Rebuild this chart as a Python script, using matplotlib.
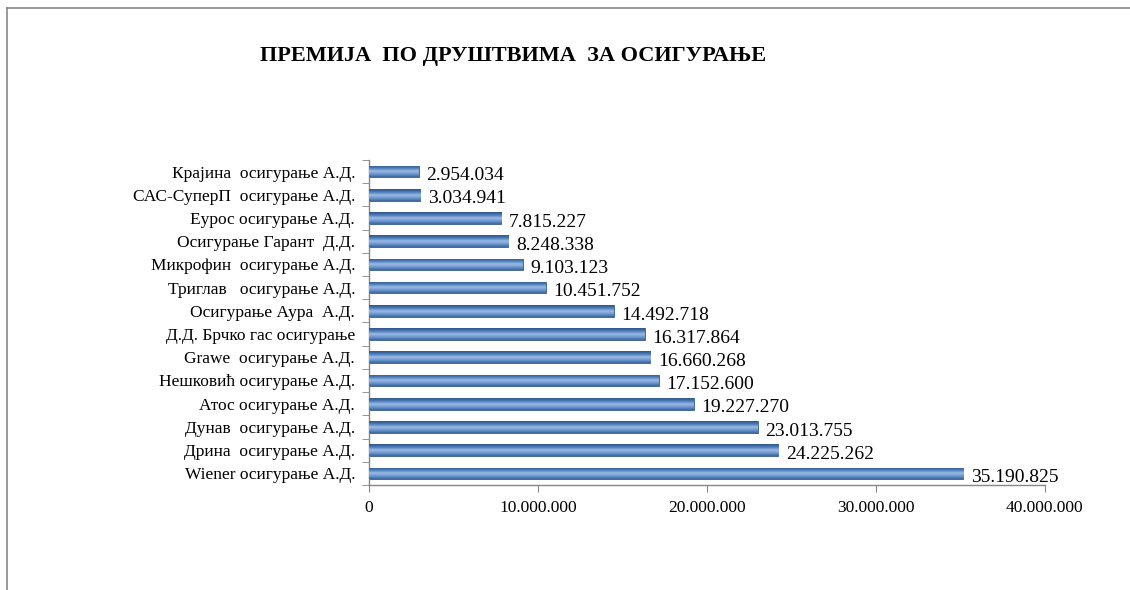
import matplotlib
matplotlib.use("Agg")
import matplotlib.pyplot as plt
import numpy as np
from matplotlib.colors import LinearSegmentedColormap
from matplotlib.lines import Line2D

companies = [
    "Крајина  осигурање А.Д.",
    "САС-СуперП  осигурање А.Д.",
    "Еурос осигурање А.Д.",
    "Осигурање Гарант  Д.Д.",
    "Микрофин  осигурање А.Д.",
    "Триглав   осигурање А.Д.",
    "Осигурање Аура  А.Д.",
    "Д.Д. Брчко гас осигурање",
    "Grawe  осигурање А.Д.",
    "Нешковић осигурање А.Д.",
    "Атос осигурање А.Д.",
    "Дунав  осигурање А.Д.",
    "Дрина  осигурање А.Д.",
    "Wiener осигурање А.Д.",
]
premiums = [
    2954034, 3034941, 7815227, 8248338, 9103123, 10451752, 14492718,
    16317864, 16660268, 17152600, 19227270, 23013755, 24225262, 35190825,
]
x_ticks = [0, 10000000, 20000000, 30000000, 40000000]


def dotted(value):
    return f"{value:,}".replace(",", ".")


plt.rcParams["font.family"] = ["Liberation Serif", "DejaVu Serif"]

fig = plt.figure(figsize=(11.3, 5.9), dpi=100)
ax = fig.add_axes([0.3265, 0.178, 0.598, 0.551])

positions = np.arange(len(companies))
bars = ax.barh(positions, premiums, height=0.5, color="#4f81bd",
               edgecolor="#385d8a", linewidth=0.6, zorder=2)

# vertical gradient over each bar, like the old Excel style
grad = LinearSegmentedColormap.from_list(
    "bar", ["#2f5689", "#4a7cba", "#9cbbe4", "#6d97cf", "#3b66a0"])
gradient = np.linspace(0, 1, 64).reshape(-1, 1)
for bar in bars:
    x0, y0 = bar.get_x(), bar.get_y()
    w, h = bar.get_width(), bar.get_height()
    img = ax.imshow(gradient, cmap=grad, aspect="auto",
                    extent=(x0, x0 + w, y0 + h, y0), zorder=3,
                    interpolation="bilinear")
    img.set_clip_path(bar)

for pos, value in zip(positions, premiums):
    ax.text(value + 450000, pos + 0.18, dotted(value), va="center",
            ha="left", fontsize=14, zorder=4)

ax.set_xlim(0, 40000000)
ax.set_ylim(len(companies) - 0.5, -0.5)
ax.set_xticks(x_ticks)
ax.set_xticklabels([dotted(t) for t in x_ticks], fontsize=12.5)
ax.set_yticks(positions)
ax.set_yticklabels(companies, fontsize=12.5)
ax.tick_params(axis="y", which="major", length=0, pad=10)
ax.set_yticks(np.arange(-0.5, len(companies), 1), minor=True)
ax.tick_params(axis="y", which="minor", length=5, direction="out",
               color="#868686")
ax.tick_params(axis="x", length=5, direction="out", color="#868686", pad=6)

for side in ["top", "right"]:
    ax.spines[side].set_visible(False)
for side in ["left", "bottom"]:
    ax.spines[side].set_color("#868686")
    ax.spines[side].set_linewidth(1.0)

fig.text(0.454, 0.905, "ПРЕМИЈА  ПО ДРУШТВИМА  ЗА ОСИГУРАЊЕ",
         ha="center", va="center", fontsize=16, fontweight="bold")

# chart area border (cropped: only top and left edges visible)
fig.add_artist(Line2D([7 / 1130, 7 / 1130], [0, 1 - 8 / 590],
                      transform=fig.transFigure, color="#888888", lw=1.2))
fig.add_artist(Line2D([7 / 1130, 1], [1 - 8 / 590, 1 - 8 / 590],
                      transform=fig.transFigure, color="#888888", lw=1.2))

fig.savefig("out.png", dpi=100)
